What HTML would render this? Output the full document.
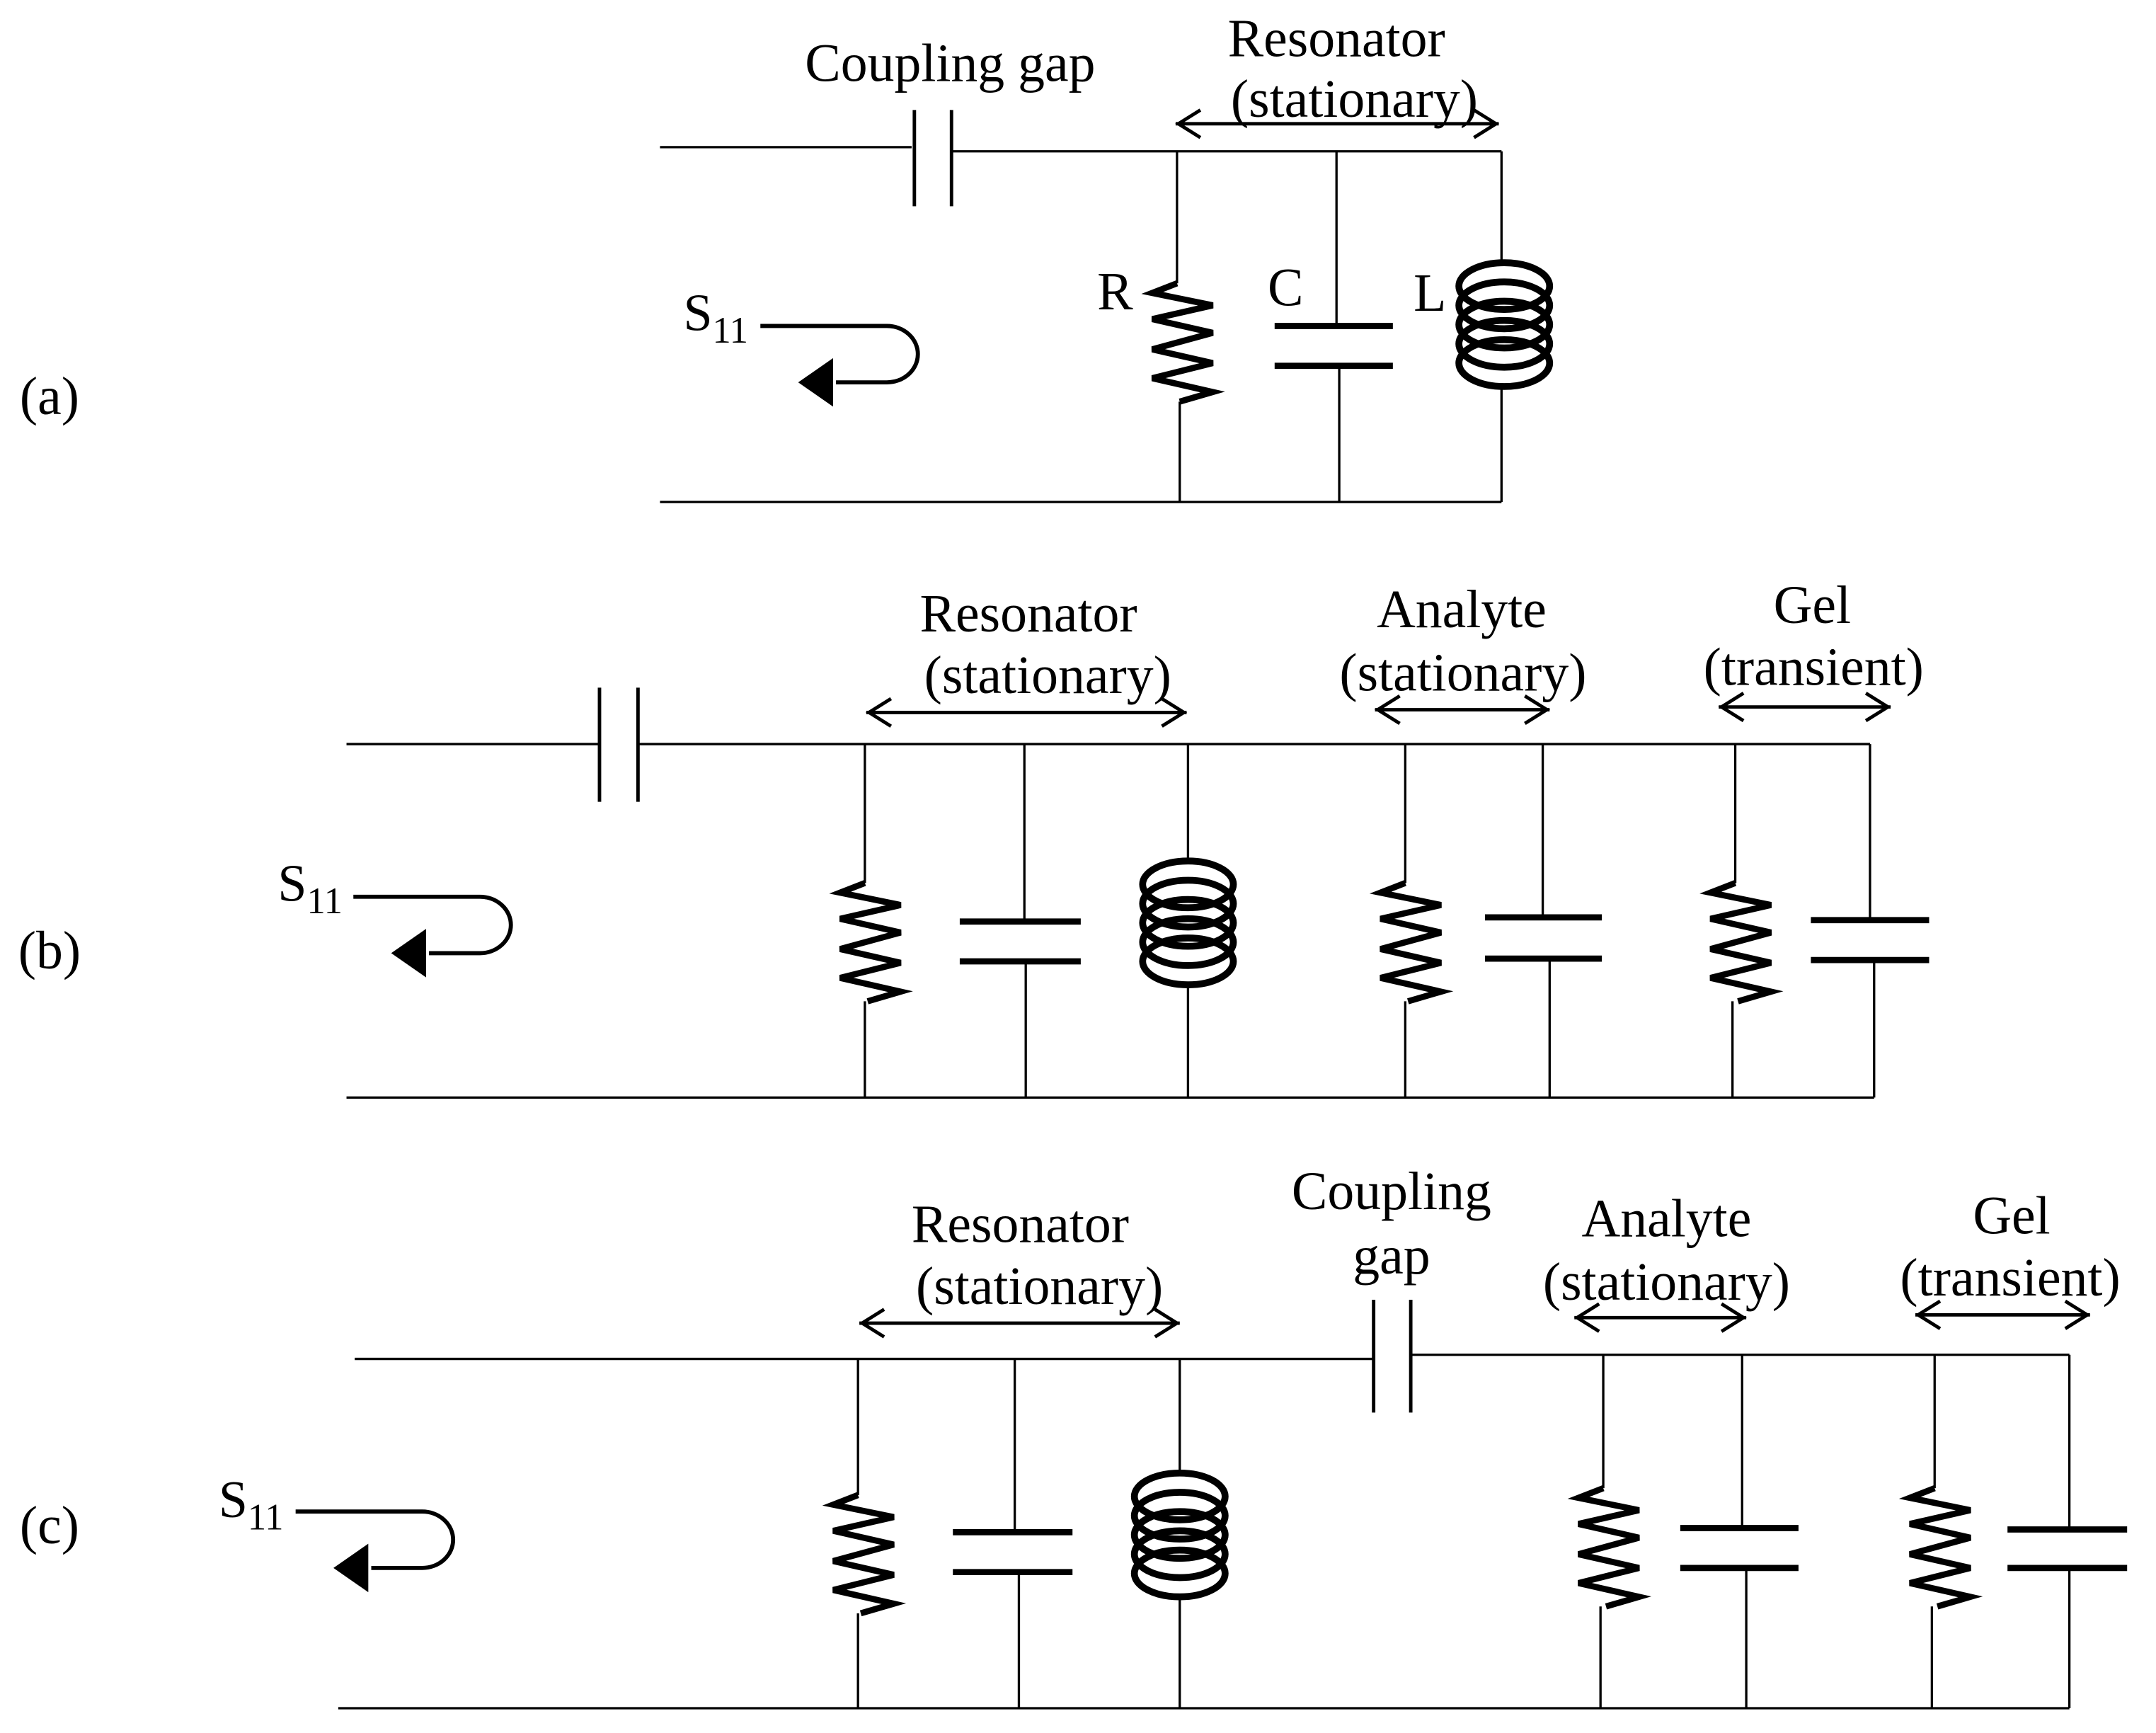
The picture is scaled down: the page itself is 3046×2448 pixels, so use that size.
<!DOCTYPE html>
<html><head><meta charset="utf-8"><style>html,body{margin:0;padding:0;background:#fff}svg{display:block}</style></head>
<body>
<svg xmlns="http://www.w3.org/2000/svg" width="3046" height="2448" viewBox="0 0 1568 1260" preserveAspectRatio="none">
<defs>
<polyline id="zz" points="0,0 -18,7 26,16 -18,26 26,36 -18,48 26,58 -18,69 26,79 2,86" fill="none" stroke="#000" stroke-width="4.5" stroke-linejoin="miter"/>
<g id="coil" fill="none" stroke="#000" stroke-width="5">
<ellipse cx="0" cy="18" rx="33" ry="17"/><ellipse cx="0" cy="32" rx="33" ry="17"/><ellipse cx="0" cy="46" rx="33" ry="17"/><ellipse cx="0" cy="60" rx="33" ry="17"/><ellipse cx="0" cy="74" rx="33" ry="17"/>
</g>
<g id="s11">
<path d="M0,0 H92 A22,20 0 0 1 92,41 H55" fill="none" stroke="#000" stroke-width="3"/>
<polygon points="29,41 52,25 52,57" fill="#000"/>
</g>
</defs>
<g stroke="#000" stroke-width="1.7" fill="none">
<!-- (a) -->
<line x1="480" y1="107" x2="663" y2="107"/>
<line x1="665" y1="80" x2="665" y2="150" stroke-width="2.5"/>
<line x1="692" y1="80" x2="692" y2="150" stroke-width="2.5"/>
<line x1="692" y1="110" x2="1092" y2="110"/>
<line x1="480" y1="365" x2="1092" y2="365"/>
<line x1="856" y1="110" x2="856" y2="206"/><use href="#zz" x="856" y="206"/><line x1="858" y1="292" x2="858" y2="365"/>
<line x1="972" y1="110" x2="972" y2="237"/><line x1="927" y1="237" x2="1013" y2="237" stroke-width="4.5"/><line x1="927" y1="266" x2="1013" y2="266" stroke-width="4.5"/><line x1="974" y1="266" x2="974" y2="365"/>
<line x1="1092" y1="110" x2="1092" y2="190"/><use href="#coil" x="1094" y="190"/><line x1="1092" y1="281" x2="1092" y2="365"/>
<path d="M855,90 H1090 M873,80 L857,90 L873,100 M1072,80 L1088,90 L1072,100" stroke-width="2.5"/>
<use href="#s11" x="553" y="237"/>
<!-- (b) -->
<line x1="252" y1="541" x2="435" y2="541"/>
<line x1="436" y1="500" x2="436" y2="583" stroke-width="2.5"/>
<line x1="464" y1="500" x2="464" y2="583" stroke-width="2.5"/>
<line x1="464" y1="541" x2="1360" y2="541"/>
<line x1="252" y1="798" x2="1363" y2="798"/>
<line x1="629" y1="541" x2="629" y2="642"/><use href="#zz" x="629" y="642"/><line x1="629" y1="728" x2="629" y2="798"/>
<line x1="745" y1="541" x2="745" y2="670"/><line x1="698" y1="670" x2="786" y2="670" stroke-width="4.5"/><line x1="698" y1="699" x2="786" y2="699" stroke-width="4.5"/><line x1="746" y1="699" x2="746" y2="798"/>
<line x1="864" y1="541" x2="864" y2="625"/><use href="#coil" x="864" y="625"/><line x1="864" y1="716" x2="864" y2="798"/>
<line x1="1022" y1="541" x2="1022" y2="642"/><use href="#zz" x="1022" y="642"/><line x1="1022" y1="728" x2="1022" y2="798"/>
<line x1="1122" y1="541" x2="1122" y2="667"/><line x1="1080" y1="667" x2="1165" y2="667" stroke-width="4.5"/><line x1="1080" y1="697" x2="1165" y2="697" stroke-width="4.5"/><line x1="1127" y1="697" x2="1127" y2="798"/>
<line x1="1262" y1="541" x2="1262" y2="642"/><use href="#zz" x="1262" y="642"/><line x1="1260" y1="728" x2="1260" y2="798"/>
<line x1="1360" y1="541" x2="1360" y2="669"/><line x1="1317" y1="669" x2="1403" y2="669" stroke-width="4.5"/><line x1="1317" y1="698" x2="1403" y2="698" stroke-width="4.5"/><line x1="1363" y1="698" x2="1363" y2="798"/>
<path d="M630,518 H863 M648,508 L632,518 L648,528 M845,508 L861,518 L845,528" stroke-width="2.5"/>
<path d="M1000,516 H1127 M1018,506 L1002,516 L1018,526 M1109,506 L1125,516 L1109,526" stroke-width="2.5"/>
<path d="M1250,514 H1375 M1268,504 L1252,514 L1268,524 M1357,504 L1373,514 L1357,524" stroke-width="2.5"/>
<use href="#s11" x="257" y="652"/>
<!-- (c) -->
<line x1="258" y1="988" x2="998" y2="988"/>
<line x1="999" y1="945" x2="999" y2="1027" stroke-width="2.5"/>
<line x1="1026" y1="945" x2="1026" y2="1027" stroke-width="2.5"/>
<line x1="1027" y1="985" x2="1505" y2="985"/>
<line x1="246" y1="1242" x2="1505" y2="1242"/>
<line x1="624" y1="988" x2="624" y2="1087"/><use href="#zz" x="624" y="1087"/><line x1="624" y1="1173" x2="624" y2="1242"/>
<line x1="738" y1="988" x2="738" y2="1114"/><line x1="693" y1="1114" x2="780" y2="1114" stroke-width="4.5"/><line x1="693" y1="1143" x2="780" y2="1143" stroke-width="4.5"/><line x1="741" y1="1143" x2="741" y2="1242"/>
<line x1="858" y1="988" x2="858" y2="1070"/><use href="#coil" x="858" y="1070"/><line x1="858" y1="1161" x2="858" y2="1242"/>
<line x1="1166" y1="985" x2="1166" y2="1082"/><use href="#zz" x="1166" y="1082"/><line x1="1164" y1="1168" x2="1164" y2="1242"/>
<line x1="1267" y1="985" x2="1267" y2="1111"/><line x1="1222" y1="1111" x2="1308" y2="1111" stroke-width="4.5"/><line x1="1222" y1="1140" x2="1308" y2="1140" stroke-width="4.5"/><line x1="1270" y1="1140" x2="1270" y2="1242"/>
<line x1="1407" y1="985" x2="1407" y2="1082"/><use href="#zz" x="1407" y="1082"/><line x1="1405" y1="1168" x2="1405" y2="1242"/>
<line x1="1505" y1="985" x2="1505" y2="1112"/><line x1="1460" y1="1112" x2="1547" y2="1112" stroke-width="4.5"/><line x1="1460" y1="1140" x2="1547" y2="1140" stroke-width="4.5"/><line x1="1505" y1="1140" x2="1505" y2="1242"/>
<path d="M625,962 H858 M643,952 L627,962 L643,972 M840,952 L856,962 L840,972" stroke-width="2.5"/>
<path d="M1145,958 H1270 M1163,948 L1147,958 L1163,968 M1252,948 L1268,958 L1252,968" stroke-width="2.5"/>
<path d="M1393,956 H1520 M1411,946 L1395,956 L1411,966 M1502,946 L1518,956 L1502,966" stroke-width="2.5"/>
<use href="#s11" x="215" y="1099"/>
</g>
<g font-family="'Liberation Serif',serif" font-size="39" fill="#000" text-anchor="middle">
<text x="36" y="301">(a)</text>
<text x="36" y="704">(b)</text>
<text x="36" y="1122">(c)</text>
<text x="691" y="59">Coupling gap</text>
<text x="972" y="41">Resonator</text>
<text x="985" y="85">(stationary)</text>
<text x="811" y="225">R</text>
<text x="935" y="222">C</text>
<text x="1040" y="226">L</text>
<text x="748" y="459">Resonator</text>
<text x="762" y="504">(stationary)</text>
<text x="1063" y="456">Analyte</text>
<text x="1064" y="502">(stationary)</text>
<text x="1318" y="453">Gel</text>
<text x="1319" y="498">(transient)</text>
<text x="742" y="903">Resonator</text>
<text x="756" y="948">(stationary)</text>
<text x="1012" y="879">Coupling</text>
<text x="1012" y="926">gap</text>
<text x="1212" y="899">Analyte</text>
<text x="1212" y="945">(stationary)</text>
<text x="1463" y="897">Gel</text>
<text x="1462" y="942">(transient)</text>
</g>
<g font-family="'Liberation Serif',serif" fill="#000">
<text x="497" y="240" font-size="38">S<tspan font-size="27" dy="9">11</tspan></text>
<text x="202" y="655" font-size="38">S<tspan font-size="27" dy="9">11</tspan></text>
<text x="159" y="1103" font-size="38">S<tspan font-size="27" dy="9">11</tspan></text>
</g>
</svg>
</body></html>
